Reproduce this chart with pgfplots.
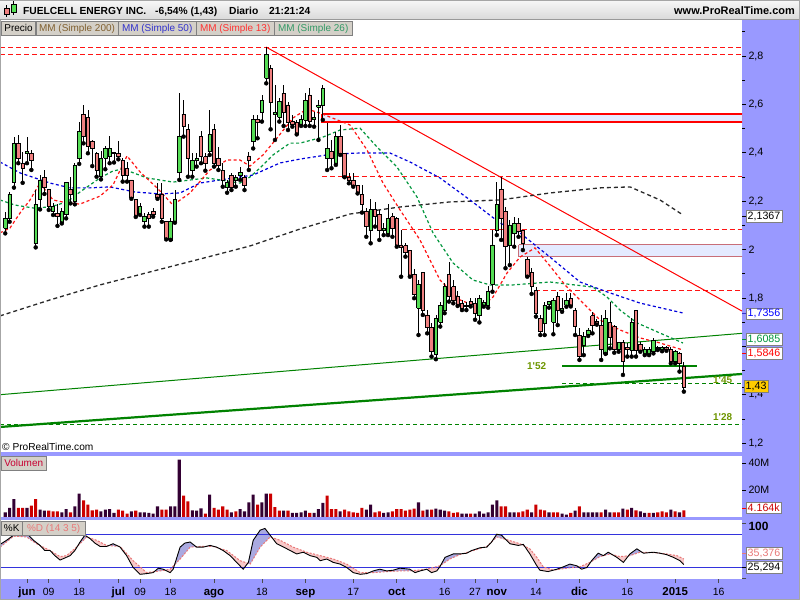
\documentclass[border=0pt]{standalone}
\usepackage{pgfplots}
\pgfplotsset{compat=1.18}
\usepackage{pgfplotstable}
\usepackage{fontspec}
\setmainfont{Liberation Sans}
\definecolor{pbg}{RGB}{153,153,255}
\definecolor{cgreen}{RGB}{85,221,85}
\definecolor{cred}{RGB}{240,128,128}
\definecolor{vdark}{RGB}{51,0,51}
\definecolor{vred}{RGB}{204,0,0}
\definecolor{ma200}{RGB}{40,40,40}
\definecolor{ma50}{RGB}{0,0,220}
\definecolor{ma13}{RGB}{255,20,20}
\definecolor{ma26}{RGB}{0,150,60}
\definecolor{tlgreen}{RGB}{0,130,0}
\definecolor{lblgreen}{RGB}{110,150,0}
\definecolor{boxfill}{RGB}{228,234,255}
\definecolor{kfill}{RGB}{170,170,225}
\definecolor{dfill}{RGB}{248,200,200}
\definecolor{dline}{RGB}{232,120,120}
\definecolor{btn}{RGB}{212,208,200}
\definecolor{mmA}{RGB}{128,96,48}
\definecolor{mmB}{RGB}{51,51,204}
\definecolor{mmC}{RGB}{255,51,51}
\definecolor{mmD}{RGB}{51,153,102}
\definecolor{stline}{RGB}{51,51,221}
\definecolor{gold}{RGB}{255,204,0}
\newcommand\ax{\fontsize{10.7}{12}\selectfont}
\newcommand\mo[1]{{\fontsize{11.5}{12}\selectfont\bfseries #1}}

\pgfplotstableread{
i o h l c
-5 2.088 2.157 2.067 2.129
-4 2.129 2.239 2.115 2.228
-3 2.276 2.467 2.256 2.439
-2 2.439 2.474 2.357 2.377
-1 2.357 2.405 2.276 2.336
0 2.398 2.467 2.357 2.407
1 2.398 2.412 2.329 2.367
2 2.026 2.246 2.009 2.187
3 2.208 2.308 2.166 2.288
4 2.299 2.329 2.230 2.257
5 2.249 2.249 2.164 2.180
6 2.159 2.191 2.143 2.180
7 2.150 2.187 2.098 2.139
8 2.111 2.171 2.108 2.157
9 2.147 2.281 2.129 2.276
10 2.250 2.301 2.191 2.230
11 2.198 2.357 2.187 2.347
12 2.377 2.529 2.354 2.490
13 2.560 2.598 2.439 2.467
14 2.547 2.577 2.398 2.425
15 2.449 2.453 2.345 2.418
16 2.398 2.405 2.301 2.326
17 2.301 2.407 2.290 2.377
18 2.379 2.428 2.332 2.418
19 2.384 2.469 2.357 2.418
20 2.398 2.405 2.360 2.402
21 2.398 2.449 2.373 2.384
22 2.370 2.377 2.281 2.308
23 2.336 2.360 2.281 2.308
24 2.288 2.288 2.210 2.216
25 2.208 2.210 2.135 2.139
26 2.147 2.191 2.143 2.180
27 2.115 2.150 2.095 2.139
28 2.147 2.157 2.095 2.129
29 2.158 2.170 2.136 2.147
30 2.228 2.277 2.210 2.216
31 2.228 2.277 2.115 2.129
32 2.115 2.115 2.042 2.046
33 2.040 2.129 2.040 2.115
34 2.115 2.246 2.111 2.208
35 2.318 2.646 2.288 2.467
36 2.560 2.618 2.467 2.508
37 2.497 2.519 2.301 2.377
38 2.326 2.398 2.301 2.367
39 2.367 2.398 2.343 2.377
40 2.467 2.491 2.357 2.384
41 2.384 2.398 2.326 2.357
42 2.405 2.577 2.391 2.475
43 2.497 2.519 2.343 2.357
44 2.377 2.425 2.329 2.350
45 2.326 2.357 2.260 2.288
46 2.257 2.288 2.235 2.276
47 2.307 2.318 2.246 2.257
48 2.288 2.308 2.260 2.299
49 2.307 2.343 2.288 2.318
50 2.299 2.308 2.246 2.267
51 2.387 2.405 2.329 2.367
52 2.446 2.556 2.418 2.538
53 2.538 2.556 2.460 2.525
54 2.566 2.639 2.529 2.618
55 2.708 2.839 2.687 2.807
56 2.749 2.763 2.497 2.607
57 2.560 2.680 2.453 2.567
58 2.547 2.625 2.529 2.611
59 2.646 2.680 2.511 2.566
60 2.598 2.611 2.494 2.525
61 2.529 2.556 2.508 2.519
62 2.525 2.536 2.476 2.476
63 2.519 2.556 2.511 2.538
64 2.535 2.646 2.511 2.618
65 2.639 2.666 2.511 2.529
66 2.538 2.570 2.508 2.547
67 2.588 2.618 2.453 2.598
68 2.598 2.680 2.536 2.666
69 2.377 2.522 2.329 2.418
70 2.405 2.453 2.336 2.377
71 2.357 2.487 2.350 2.467
72 2.467 2.515 2.391 2.398
73 2.398 2.398 2.299 2.299
74 2.299 2.318 2.274 2.288
75 2.288 2.318 2.260 2.266
76 2.266 2.266 2.232 2.235
77 2.228 2.267 2.153 2.187
78 2.159 2.170 2.053 2.095
79 2.078 2.208 2.026 2.166
80 2.166 2.198 2.095 2.136
81 2.147 2.164 2.040 2.078
82 2.078 2.108 2.060 2.088
83 2.067 2.187 2.060 2.129
84 2.136 2.150 2.053 2.088
85 2.129 2.136 2.012 2.019
86 2.019 2.081 1.888 2.009
87 2.016 2.026 1.971 1.989
88 1.998 1.998 1.888 1.888
89 1.898 1.918 1.799 1.817
90 1.757 1.874 1.647 1.857
91 1.906 1.906 1.730 1.750
92 1.730 1.750 1.654 1.679
93 1.679 1.695 1.558 1.578
94 1.569 1.730 1.547 1.716
95 1.700 1.785 1.682 1.771
96 1.750 1.861 1.737 1.847
97 1.898 1.950 1.785 1.805
98 1.847 1.874 1.778 1.792
99 1.805 1.830 1.767 1.771
100 1.778 1.792 1.750 1.757
101 1.770 1.785 1.750 1.764
102 1.785 1.800 1.765 1.775
103 1.778 1.800 1.710 1.737
104 1.727 1.812 1.699 1.799
105 1.771 1.792 1.764 1.780
106 1.768 1.850 1.760 1.826
107 1.858 2.081 1.826 2.019
108 2.081 2.281 2.060 2.188
109 2.249 2.300 2.040 2.129
110 2.157 2.177 1.923 2.012
111 2.019 2.122 1.936 2.102
112 2.067 2.136 2.012 2.109
113 2.109 2.129 2.053 2.074
114 2.081 2.081 1.998 2.026
115 1.960 1.971 1.888 1.891
116 1.905 1.923 1.817 1.850
117 1.833 1.847 1.723 1.737
118 1.716 1.730 1.647 1.661
119 1.695 1.785 1.647 1.771
120 1.775 1.789 1.760 1.785
121 1.700 1.800 1.650 1.790
122 1.808 1.826 1.688 1.750
123 1.748 1.799 1.743 1.757
124 1.771 1.819 1.764 1.789
125 1.799 1.819 1.765 1.771
126 1.750 1.757 1.647 1.682
127 1.647 1.675 1.544 1.558
128 1.606 1.661 1.564 1.640
129 1.651 1.675 1.643 1.668
130 1.727 1.744 1.654 1.688
131 1.702 1.712 1.690 1.695
132 1.688 1.730 1.544 1.588
133 1.569 1.750 1.569 1.716
134 1.699 1.785 1.592 1.637
135 1.681 1.688 1.574 1.588
136 1.588 1.620 1.578 1.615
137 1.615 1.626 1.482 1.537
138 1.596 1.613 1.558 1.588
139 1.582 1.716 1.558 1.699
140 1.748 1.750 1.558 1.585
141 1.609 1.620 1.578 1.585
142 1.569 1.596 1.564 1.588
143 1.569 1.596 1.564 1.588
144 1.578 1.633 1.571 1.626
145 1.596 1.600 1.585 1.589
146 1.589 1.600 1.580 1.596
147 1.596 1.602 1.582 1.588
148 1.588 1.599 1.530 1.537
149 1.537 1.585 1.530 1.578
150 1.571 1.578 1.496 1.530
151 1.516 1.537 1.413 1.430
}\ohlc

\pgfplotstableread{
i d r
-5 3.5 0
-4 6.7 0
-3 13.3 0
-2 0 6.7
-1 0 6.7
0 6.7 0
1 0 8.4
2 0 13.3
3 5.4 0
4 4.7 0
5 0 4.7
6 0 4.2
7 0 4.2
8 3.5 0
9 5.9 0
10 0 3.5
11 7.9 0
12 17.3 0
13 0 12.3
14 0 9.1
15 0 4.9
16 0 5.4
17 4.2 0
18 5.4 0
19 5.9 0
20 3.0 0
21 0 5.4
22 0 4.7
23 0 2.5
24 4.2 0
25 0 4.7
26 3.5 0
27 3.5 0
28 3.0 0
29 2.5 0
30 7.9 0
31 0 5.4
32 0 5.4
33 7.9 0
34 7.9 0
35 42.5 0
36 0 15.8
37 0 11.6
38 4.9 0
39 4.7 0
40 6.4 0
41 0 2.5
42 16.5 0
43 0 6.7
44 0 5.4
45 0 7.9
46 0 5.4
47 3.5 0
48 0 4.2
49 5.9 0
50 4.2 0
51 10.9 0
52 16.5 0
53 0 9.1
54 10.9 0
55 17.3 0
56 0 17.3
57 0 7.4
58 0 4.7
59 4.7 0
60 0 4.7
61 3.0 0
62 3.0 0
63 3.5 0
64 4.7 0
65 0 3.0
66 3.0 0
67 5.9 0
68 10.4 0
69 0 15.8
70 0 5.9
71 0 5.9
72 4.2 0
73 0 5.4
74 0 4.2
75 0 3.5
76 0 3.0
77 0 6.7
78 5.4 0
79 9.1 0
80 0 3.5
81 0 4.2
82 3.0 0
83 3.5 0
84 0 4.2
85 0 5.9
86 0 5.9
87 0 4.7
88 0 5.4
89 0 6.2
90 10.9 0
91 0 4.7
92 5.4 0
93 0 5.4
94 6.2 0
95 5.4 0
96 4.7 0
97 0 4.2
98 0 3.0
99 0 3.5
100 2.5 0
101 2.5 0
102 0 2.5
103 2.5 0
104 4.2 0
105 2.5 0
106 3.5 0
107 9.1 0
108 12.3 0
109 0 7.9
110 0 7.9
111 3.5 0
112 3.5 0
113 0 3.5
114 0 4.2
115 0 5.4
116 3.5 0
117 0 9.1
118 0 5.4
119 0 4.9
120 3.5 0
121 0 3.5
122 0 3.5
123 2.5 0
124 1.7 0
125 0 3.0
126 4.7 0
127 0 7.9
128 3.5 0
129 3.5 0
130 3.5 0
131 3.5 0
132 0 3.5
133 5.4 0
134 3.5 0
135 0 3.5
136 0 3.5
137 6.2 0
138 0 5.4
139 6.7 0
140 0 4.9
141 4.2 0
142 3.0 0
143 0 3.0
144 3.0 0
145 0 3.5
146 0 4.2
147 0 3.5
148 5.4 0
149 0 4.2
150 3.5 0
151 0 4.9
}\vol

\begin{document}
\begin{tikzpicture}[x=1bp,y=1bp]
\useasboundingbox (0,0) rectangle (800,600);
\fill[pbg] (0,0) rectangle (800,580);
\shade[top color=gray!6, bottom color=gray!30] (0,580) rectangle (800,600);
\draw[gray!80] (0,580.5) -- (800,580.5);

% ---------------- price panel ----------------
\begin{axis}[at={(0bp,148bp)}, anchor=south west, scale only axis,
  width=742bp, height=432bp,
  xmin=-6.207, xmax=164.37, ymin=1.1636, ymax=2.9488,
  axis background/.style={fill=white}, axis line style={draw=none},
  xtick=\empty,
  ytick={1.2,1.4,1.6,1.8,2,2.2,2.4,2.6,2.8},
  yticklabels={{1,2},{1,4},{},{1,8},{2},{2,2},{2,4},{2,6},{2,8}},
  minor ytick={1.3,1.5,1.7,1.9,2.1,2.3,2.5,2.7,2.9},
  ytick pos=right, yticklabel pos=right, tick align=outside,
  major tick length=4bp, minor tick length=3bp,
  tick style={black, line width=0.6bp},
  yticklabel style={font=\ax, anchor=west, xshift=-1bp}]
% horizontal levels and trend lines
\addplot[ma13, line width=1bp, dash pattern=on 5bp off 3bp, forget plot] coordinates {(-6.207,2.834) (164.37,2.834)};
\addplot[ma13, line width=1bp, dash pattern=on 5bp off 3bp, forget plot] coordinates {(-6.207,2.807) (164.37,2.807)};
\addplot[ma13, line width=1bp, dash pattern=on 5bp off 3bp, forget plot] coordinates {(67.8,2.301) (164.37,2.301)};
\addplot[ma13, line width=1bp, dash pattern=on 5bp off 3bp, forget plot] coordinates {(86.1,2.081) (164.37,2.081)};
\addplot[ma13, line width=1bp, dash pattern=on 5bp off 3bp, forget plot] coordinates {(116.8,1.829) (164.37,1.829)};
\addplot[draw=red, line width=1.5bp, fill=boxfill, forget plot] coordinates {(67.8,2.560) (164.6,2.560) (164.6,2.527) (67.8,2.527) (67.8,2.560)};
\addplot[draw={rgb,255:red,200;green,110;blue,120}, line width=1bp, fill=boxfill, forget plot] coordinates {(113.1,2.019) (164.6,2.019) (164.6,1.973) (113.1,1.973) (113.1,2.019)};
\addplot[red, line width=1bp, forget plot] coordinates {(54.94,2.837) (164.37,1.746)};
\addplot[tlgreen, line width=1bp, forget plot] coordinates {(-6.207,1.4004) (164.37,1.654)};
\addplot[tlgreen, line width=2.2bp, forget plot] coordinates {(-6.207,1.267) (164.37,1.486)};
\addplot[tlgreen, line width=2.4bp, forget plot] coordinates {(123.0,1.519) (154.0,1.519)};
\addplot[tlgreen, line width=1bp, dash pattern=on 4bp off 3bp, forget plot] coordinates {(123.0,1.448) (164.37,1.448)};
\addplot[tlgreen, line width=1bp, dash pattern=on 4bp off 3bp, forget plot] coordinates {(-6.207,1.278) (164.37,1.278)};
% moving averages
\addplot[ma200, line width=1.3bp, dash pattern=on 4bp off 3bp, forget plot] coordinates {(-6.21,1.726) (5.29,1.792) (16.78,1.854) (28.33,1.908) (39.77,1.961) (51.26,2.015) (62.76,2.085) (74.25,2.147) (85.75,2.176) (97.24,2.197) (108.74,2.205) (120.23,2.234) (131.72,2.255) (138.62,2.259) (145.52,2.205) (150.8,2.143)};
\addplot[ma50, line width=1.2bp, dash pattern=on 3bp off 2.5bp, forget plot] coordinates {(-6.21,2.362) (-1.61,2.317) (5.29,2.275) (9.89,2.255) (14.48,2.255) (19.08,2.259) (24.83,2.238) (30.57,2.230) (35.17,2.234) (39.77,2.275) (47.36,2.296) (51.95,2.308) (58.16,2.358) (62.76,2.374) (70.34,2.395) (76.55,2.399) (83.45,2.399) (88.05,2.362) (94.94,2.296) (101.84,2.205) (108.74,2.110) (113.33,2.069) (120.23,1.969) (127.13,1.866) (134.02,1.821) (140.92,1.779) (150.8,1.738)};
\addplot[ma26, line width=1.2bp, dash pattern=on 3bp off 2.5bp, forget plot] coordinates {(-6.21,2.205) (-2.76,2.184) (1.38,2.172) (5.29,2.176) (9.20,2.197) (12.18,2.238) (16.78,2.296) (19.77,2.325) (22.07,2.333) (27.59,2.296) (33.56,2.279) (41.38,2.296) (48.97,2.275) (51.26,2.300) (53.56,2.337) (56.55,2.391) (60.46,2.440) (62.76,2.440) (68.05,2.465) (71.95,2.494) (76.55,2.502) (80.46,2.424) (85.06,2.341) (89.66,2.217) (93.33,2.069) (97.93,1.945) (102.53,1.874) (106.44,1.854) (111.72,1.854) (120.23,1.866) (130.11,1.845) (133.33,1.804) (136.32,1.750) (140.23,1.697) (145.52,1.655) (150.8,1.614)};
\addplot[ma13, line width=1.2bp, dash pattern=on 3bp off 2.5bp, forget plot] coordinates {(-6.21,2.069) (-3.91,2.089) (-1.61,2.151) (0.69,2.205) (2.99,2.275) (5.98,2.205) (9.20,2.193) (12.18,2.188) (16.78,2.221) (19.77,2.267) (22.99,2.387) (25.98,2.321) (29.89,2.255) (33.56,2.184) (37.47,2.234) (42.07,2.329) (45.98,2.370) (48.97,2.370) (51.26,2.345) (54.25,2.391) (57.47,2.461) (61.15,2.544) (64.37,2.581) (67.36,2.564) (74.25,2.515) (78.16,2.412) (81.84,2.275) (85.75,2.164) (90.34,2.040) (94.94,1.874) (99.54,1.792) (104.14,1.759) (107.13,1.804) (110.34,1.903) (113.33,1.969) (116.78,2.007) (120.23,1.932) (123.68,1.854) (128.28,1.771) (131.72,1.709) (136.32,1.668) (140.92,1.635) (145.52,1.614) (150.8,1.585)};
% candle wicks
\addplot[only marks, mark=none, forget plot, error bars/.cd, y dir=plus, y explicit, error mark=none, error bar style={black, line width=0.8bp}]
  table[x=i, y=l, y error plus expr=\thisrow{h}-\thisrow{l}] {\ohlc};
% candle bodies
\pgfplotstablegetrowsof{\ohlc}
\pgfmathtruncatemacro\lastrow{\pgfplotsretval-1}
\pgfplotsforeachungrouped \rr in {0,...,\lastrow}{%
  \pgfplotstablegetelem{\rr}{i}\of{\ohlc}\let\ci\pgfplotsretval
  \pgfplotstablegetelem{\rr}{o}\of{\ohlc}\let\co\pgfplotsretval
  \pgfplotstablegetelem{\rr}{c}\of{\ohlc}\let\cc\pgfplotsretval
  \pgfmathsetmacro\xl{\ci-0.40}%
  \pgfmathsetmacro\xr{\ci+0.40}%
  \pgfmathtruncatemacro\up{\cc>=\co}%
  \ifnum\up=1 \def\bc{cgreen}\else\def\bc{cred}\fi
  \edef\tmp{\noexpand\addplot[draw=black, line width=0.7bp, fill=\bc, forget plot] coordinates {(\xl,\co) (\xr,\co) (\xr,\cc) (\xl,\cc) (\xl,\co)};}%
  \tmp
}
\end{axis}

% ---------------- volume panel ----------------
\begin{axis}[at={(0bp,83bp)}, anchor=south west, scale only axis,
  width=742bp, height=61bp,
  xmin=-6.207, xmax=164.37, ymin=0, ymax=45.19,
  axis background/.style={fill=white}, axis line style={draw=none},
  xtick=\empty, ytick={20,40}, yticklabels={20M,40M},
  ytick pos=right, yticklabel pos=right, tick align=outside,
  major tick length=4bp, tick style={black, line width=0.6bp},
  yticklabel style={font=\ax, anchor=west, xshift=-1bp}]
\addplot[ybar, bar width=0.7, bar shift=0pt, fill=vdark, draw=none] table[x=i, y=d] {\vol};
\addplot[ybar, bar width=0.7, bar shift=0pt, fill=vred, draw=none] table[x=i, y=r] {\vol};
\end{axis}

% ---------------- stochastic panel ----------------
\begin{axis}[at={(0bp,21bp)}, anchor=south west, scale only axis,
  width=742bp, height=59bp,
  xmin=-6.207, xmax=164.37, ymin=-0.93, ymax=106.5,
  axis background/.style={fill=white}, axis line style={draw=none},
  xtick={0,5,12,21,26,33,43,54,64,75,85,96,103,108,117,127,138,149,159},
  xticklabels={\mo{jun},09,18,\mo{jul},09,18,\mo{ago},18,\mo{sep},17,\mo{oct},16,27,\mo{nov},14,\mo{dic},16,\mo{2015},16},
  xtick pos=bottom, ytick={0,100}, yticklabels={,\textbf{100}},
  ytick pos=right, yticklabel pos=right, tick align=outside,
  major tick length=4bp, tick style={black!70, line width=0.6bp},
  xticklabel style={font=\fontsize{10.5}{12}\selectfont, anchor=base, yshift=-13bp},
  yticklabel style={font=\fontsize{12}{12}\selectfont, anchor=west, xshift=-1bp, yshift=-3bp}]
% pink: whole region between %K and %D
\addplot[fill=dfill, draw=none, forget plot] coordinates {(-6.2,62.0) (-4.7,69.5) (-3.1,78.8) (-1.6,88.0) (-0.1,82.0) (1.5,69.5) (3.0,60.2) (4.1,50.9) (5.3,50.9) (6.4,41.6) (7.6,33.6) (8.7,37.3) (9.9,41.6) (11.0,50.9) (12.2,66.4) (13.3,78.8) (14.5,72.6) (15.6,64.5) (16.8,58.3) (18.3,58.3) (19.8,63.3) (21.4,57.1) (22.9,41.6) (24.4,20.0) (26.0,7.6) (27.5,8.9) (29.0,10.7) (30.2,18.8) (31.3,16.9) (32.9,10.7) (33.6,16.9) (35.2,57.1) (36.3,64.5) (37.5,66.4) (39.0,57.1) (40.5,57.1) (42.1,60.2) (43.6,57.1) (45.1,50.9) (46.7,41.6) (48.2,29.3) (49.7,16.9) (50.9,29.3) (52.0,69.5) (53.6,88.0) (54.7,91.1) (55.9,78.8) (57.4,63.3) (59.0,57.1) (60.5,50.9) (62.0,44.7) (63.5,47.8) (65.1,41.6) (66.6,38.5) (67.4,32.4) (68.9,35.5) (70.4,29.3) (72.0,26.2) (73.5,20.0) (75.0,10.7) (76.6,7.6) (78.1,8.9) (79.6,13.8) (81.1,16.9) (82.7,13.8) (84.2,15.1) (85.7,18.8) (88.0,16.9) (89.2,10.7) (90.4,13.8) (91.9,16.9) (93.0,10.7) (94.2,13.8) (94.9,21.2) (96.1,38.5) (98.0,44.7) (99.5,44.7) (101.1,46.0) (102.2,50.9) (104.1,55.9) (105.7,57.1) (106.8,66.4) (108.0,80.6) (109.1,78.8) (111.0,63.3) (112.95,60.2) (114.1,62.1) (115.6,44.7) (117.2,23.1) (117.9,15.1) (119.8,12.6) (121.8,16.9) (123.3,21.2) (124.8,26.2) (126.4,23.1) (127.5,16.9) (128.7,20.0) (129.8,32.4) (131.3,46.0) (132.5,41.6) (133.6,47.8) (135.6,38.5) (137.1,29.3) (138.6,44.7) (140.2,54.0) (141.7,46.0) (144.0,47.8) (145.5,46.0) (147.0,43.5) (148.6,38.5) (150.1,32.4) (151.0,25.3)
 (151.0,35.4) (149.4,41.6) (147.0,44.7) (144.0,47.2) (140.9,47.8) (138.6,41.6) (136.3,39.8) (134.0,44.7) (131.7,39.8) (129.4,29.3) (127.1,21.2) (124.1,18.8) (121.0,15.1) (118.7,21.2) (117.2,38.5) (115.6,54.0) (113.3,63.3) (110.3,70.7) (108.0,75.7) (105.7,58.3) (102.6,50.9) (99.5,43.5) (97.2,35.5) (94.9,23.1) (91.9,16.9) (88.0,13.8) (85.8,13.8) (82.7,12.6) (79.6,10.7) (76.6,10.7) (73.5,26.2) (70.4,35.5) (67.4,41.6) (64.3,47.8) (61.2,57.1) (58.2,69.5) (55.9,75.7) (53.6,57.1) (51.3,26.2) (49.0,32.4) (45.9,50.9) (42.8,58.3) (39.8,58.3) (37.5,57.1) (35.2,35.5) (32.9,16.9) (30.6,13.8) (27.5,10.7) (24.4,32.4) (21.4,58.3) (18.3,60.2) (16.0,69.5) (13.7,75.7) (11.4,57.1) (9.1,41.6) (7.6,39.8) (5.3,50.9) (2.2,63.3) (-0.1,75.7) (-3.1,77.0) (-6.2,57.0)};
% blue: lobes where %K is above %D
\addplot[fill=kfill, draw=none, forget plot] coordinates {(-6.2,62.0) (-4.7,69.5) (-3.1,78.8) (-1.6,88.0) (-0.1,82.0) (1.5,69.5) (3.0,60.2) (2.2,63.3) (-0.1,75.7) (-3.1,77.0) (-6.2,57.0)};
\addplot[fill=kfill, draw=none, forget plot] coordinates {(11.6,58.7) (12.2,66.4) (13.3,78.8) (14.2,74.3) (13.7,75.7)};
\addplot[fill=kfill, draw=none, forget plot] coordinates {(19.0,60.0) (19.8,63.3) (20.9,58.7)};
\addplot[fill=kfill, draw=none, forget plot] coordinates {(29.4,12.6) (30.2,18.8) (31.3,16.9) (31.75,15.2) (30.6,13.8)};
\addplot[fill=kfill, draw=none, forget plot] coordinates {(33.9,24.8) (35.2,57.1) (36.3,64.5) (37.5,66.4) (38.9,57.8) (37.5,57.1) (35.2,35.5)};
\addplot[fill=kfill, draw=none, forget plot] coordinates {(41.1,58.3) (42.1,60.2) (43.6,57.1) (44.2,54.6) (42.8,58.3)};
\addplot[fill=kfill, draw=none, forget plot] coordinates {(50.75,27.7) (52.0,69.5) (53.6,88.0) (54.7,91.1) (55.9,78.8) (56.3,74.6) (55.9,75.7) (53.6,57.1) (51.3,26.2)};
\addplot[fill=kfill, draw=none, forget plot] coordinates {(78.6,10.7) (79.6,13.8) (81.1,16.9) (82.7,13.8) (84.2,15.1) (85.7,18.8) (88.0,16.9) (88.55,14.2) (88.0,13.8) (85.8,13.8) (82.7,12.6) (79.6,10.7)};
\addplot[fill=kfill, draw=none, forget plot] coordinates {(95.1,24.2) (96.1,38.5) (98.0,44.7) (99.5,44.7) (100.2,45.2) (99.5,43.5) (97.2,35.5)};
\addplot[fill=kfill, draw=none, forget plot] coordinates {(101.8,49.05) (102.2,50.9) (104.1,55.9) (105.0,56.6) (102.6,50.9)};
\addplot[fill=kfill, draw=none, forget plot] coordinates {(106.75,66.0) (108.0,80.6) (109.1,78.8) (110.0,71.4) (108.0,75.7)};
\addplot[fill=kfill, draw=none, forget plot] coordinates {(113.75,61.5) (114.1,62.1) (114.35,59.1)};
\addplot[fill=kfill, draw=none, forget plot] coordinates {(121.2,15.5) (121.8,16.9) (123.3,21.2) (124.8,26.2) (126.4,23.1) (126.8,21.0) (124.1,18.8)};
\addplot[fill=kfill, draw=none, forget plot] coordinates {(129.6,30.2) (129.8,32.4) (131.3,46.0) (132.5,41.6) (133.6,47.8) (134.5,43.6) (134.0,44.7) (131.7,39.8)};
\addplot[fill=kfill, draw=none, forget plot] coordinates {(138.3,41.4) (138.6,44.7) (140.2,54.0) (141.4,47.7) (140.9,47.8) (138.6,41.6)};
\addplot[fill=kfill, draw=none, forget plot] coordinates {(143.3,47.3) (144.0,47.8) (145.5,46.0) (144.0,47.2)};
\addplot[stline, line width=1bp, forget plot] coordinates {(-6.207,80) (164.37,80)};
\addplot[stline, line width=1bp, forget plot] coordinates {(-6.207,20) (164.37,20)};
\addplot[dline, line width=1bp, dash pattern=on 2bp off 1.5bp, forget plot] coordinates {(-6.2,57.0) (-3.1,77.0) (-0.1,75.7) (2.2,63.3) (5.3,50.9) (7.6,39.8) (9.1,41.6) (11.4,57.1) (13.7,75.7) (16.0,69.5) (18.3,60.2) (21.4,58.3) (24.4,32.4) (27.5,10.7) (30.6,13.8) (32.9,16.9) (35.2,35.5) (37.5,57.1) (39.8,58.3) (42.8,58.3) (45.9,50.9) (49.0,32.4) (51.3,26.2) (53.6,57.1) (55.9,75.7) (58.2,69.5) (61.2,57.1) (64.3,47.8) (67.4,41.6) (70.4,35.5) (73.5,26.2) (76.6,10.7) (79.6,10.7) (82.7,12.6) (85.8,13.8) (88.0,13.8) (91.9,16.9) (94.9,23.1) (97.2,35.5) (99.5,43.5) (102.6,50.9) (105.7,58.3) (108.0,75.7) (110.3,70.7) (113.3,63.3) (115.6,54.0) (117.2,38.5) (118.7,21.2) (121.0,15.1) (124.1,18.8) (127.1,21.2) (129.4,29.3) (131.7,39.8) (134.0,44.7) (136.3,39.8) (138.6,41.6) (140.9,47.8) (144.0,47.2) (147.0,44.7) (149.4,41.6) (151.0,35.4)};
\addplot[black, line width=0.9bp, forget plot] coordinates {(-6.2,62.0) (-4.7,69.5) (-3.1,78.8) (-1.6,88.0) (-0.1,82.0) (1.5,69.5) (3.0,60.2) (4.1,50.9) (5.3,50.9) (6.4,41.6) (7.6,33.6) (8.7,37.3) (9.9,41.6) (11.0,50.9) (12.2,66.4) (13.3,78.8) (14.5,72.6) (15.6,64.5) (16.8,58.3) (18.3,58.3) (19.8,63.3) (21.4,57.1) (22.9,41.6) (24.4,20.0) (26.0,7.6) (27.5,8.9) (29.0,10.7) (30.2,18.8) (31.3,16.9) (32.9,10.7) (33.6,16.9) (35.2,57.1) (36.3,64.5) (37.5,66.4) (39.0,57.1) (40.5,57.1) (42.1,60.2) (43.6,57.1) (45.1,50.9) (46.7,41.6) (48.2,29.3) (49.7,16.9) (50.9,29.3) (52.0,69.5) (53.6,88.0) (54.7,91.1) (55.9,78.8) (57.4,63.3) (59.0,57.1) (60.5,50.9) (62.0,44.7) (63.5,47.8) (65.1,41.6) (66.6,38.5) (67.4,32.4) (68.9,35.5) (70.4,29.3) (72.0,26.2) (73.5,20.0) (75.0,10.7) (76.6,7.6) (78.1,8.9) (79.6,13.8) (81.1,16.9) (82.7,13.8) (84.2,15.1) (85.7,18.8) (88.0,16.9) (89.2,10.7) (90.4,13.8) (91.9,16.9) (93.0,10.7) (94.2,13.8) (94.9,21.2) (96.1,38.5) (98.0,44.7) (99.5,44.7) (101.1,46.0) (102.2,50.9) (104.1,55.9) (105.7,57.1) (106.8,66.4) (108.0,80.6) (109.1,78.8) (111.0,63.3) (112.95,60.2) (114.1,62.1) (115.6,44.7) (117.2,23.1) (117.9,15.1) (119.8,12.6) (121.8,16.9) (123.3,21.2) (124.8,26.2) (126.4,23.1) (127.5,16.9) (128.7,20.0) (129.8,32.4) (131.3,46.0) (132.5,41.6) (133.6,47.8) (135.6,38.5) (137.1,29.3) (138.6,44.7) (140.2,54.0) (141.7,46.0) (144.0,47.8) (145.5,46.0) (147.0,43.5) (148.6,38.5) (150.1,32.4) (151.0,25.3)};
\end{axis}

% ---------------- overlays ----------------
% title bar
\fill[cred] (4,586) rectangle (9,592); \draw[black,line width=0.5] (4,586) rectangle (9,592) (6.5,583)--(6.5,586) (6.5,592)--(6.5,595);
\fill[cgreen] (11,588) rectangle (16,596); \draw[black,line width=0.5] (11,588) rectangle (16,596) (13.5,585)--(13.5,588) (13.5,596)--(13.5,599);
\node[anchor=base west, inner sep=0, font=\fontsize{10.3}{12}\selectfont\bfseries] at (23,585) {FUELCELL ENERGY INC.};
\node[anchor=base west, inner sep=0, font=\fontsize{10.3}{12}\selectfont\bfseries] at (155,585) {-6,54\% (1,43)};
\node[anchor=base west, inner sep=0, font=\fontsize{10.3}{12}\selectfont\bfseries] at (229,585) {Diario};
\node[anchor=base west, inner sep=0, font=\fontsize{10.3}{12}\selectfont\bfseries] at (269,585) {21:21:24};
\node[anchor=base east, inner sep=0, font=\fontsize{11}{12}\selectfont\bfseries] at (795,585) {www.ProRealTime.com};
% legend buttons
\begin{scope}[font=\fontsize{10}{12}\selectfont]
\draw[fill=btn, draw=gray] (1.5,565) rectangle (35.5,579);
\node[anchor=base, inner sep=0] at (18.5,568.5) {Precio};
\draw[fill=btn, draw=gray] (36,565) rectangle (118,579);
\node[anchor=base, inner sep=0, text=mmA] at (77,568.5) {MM (Simple 200)};
\draw[fill=btn, draw=gray] (118.5,565) rectangle (196,579);
\node[anchor=base, inner sep=0, text=mmB] at (157.2,568.5) {MM (Simple 50)};
\draw[fill=btn, draw=gray] (196.5,565) rectangle (274,579);
\node[anchor=base, inner sep=0, text=mmC] at (235.2,568.5) {MM (Simple 13)};
\draw[fill=btn, draw=gray] (274.5,565) rectangle (352,579);
\node[anchor=base, inner sep=0, text=mmD] at (313.2,568.5) {MM (Simple 26)};
\end{scope}
% level labels
\node[anchor=base west, inner sep=0, text=lblgreen, font=\fontsize{10}{12}\selectfont\bfseries] at (527,230) {1\textquotesingle 52};
\node[anchor=base west, inner sep=0, text=lblgreen, font=\fontsize{10}{12}\selectfont\bfseries] at (713,216) {1\textquotesingle 45};
\node[anchor=base west, inner sep=0, text=lblgreen, font=\fontsize{10}{12}\selectfont\bfseries] at (713,179) {1\textquotesingle 28};
\node[anchor=base west, inner sep=0, font=\fontsize{10.2}{12}\selectfont] at (2,149) {\textcopyright\ ProRealTime.com};
% value boxes on right scale
\begin{scope}[font=\ax]
\draw[black, line width=0.8] (742,384) -- (746,384);
\node[draw=gray, fill=white, anchor=west, inner sep=1.5bp] at (746,384) {2,1367};
\draw[mmB, line width=0.8] (742,286.3) -- (746,286.3);
\node[draw=gray, fill=white, anchor=west, inner sep=1.5bp, text=blue] at (746,286.3) {1,7356};
\draw[ma26, line width=0.8] (742,260.5) -- (746,260.5);
\node[draw=gray, fill=white, anchor=west, inner sep=1.5bp, text=ma26] at (746,260.5) {1,6085};
\draw[red, line width=0.8] (742,246.5) -- (746,246.5);
\node[draw=gray, fill=white, anchor=west, inner sep=1.5bp, text=red] at (746,246.5) {1,5846};
\draw[black, line width=0.8] (742,212.5) -- (746,212.5);
\node[draw=gray, fill=gold, anchor=west, inner sep=1.5bp, text=black] at (744,214) {1,43};
\draw[red, line width=0.8] (742,92) -- (746,92);
\node[draw=gray, fill=white, anchor=west, inner sep=1.5bp, text=vred] at (746,92) {4.164k};
\draw[dline, line width=0.8] (742,47) -- (746,47);
\node[draw=gray, fill=white, anchor=west, inner sep=1.5bp, text=dline] at (746,47) {35,376};
\draw[black, line width=0.8] (742,33) -- (746,33);
\node[draw=gray, fill=white, anchor=west, inner sep=1.5bp, text=black] at (746,33) {25,294};
\end{scope}
% panel name buttons
\begin{scope}[font=\fontsize{10}{12}\selectfont]
\draw[fill=btn, draw=gray] (1.5,130) rectangle (46,143.5);
\node[anchor=base, inner sep=0, text={rgb,255:red,200;green,0;blue,50}] at (23.7,133.5) {Volumen};
\draw[fill=btn, draw=gray] (1.5,65) rectangle (22,79);
\node[anchor=base, inner sep=0] at (11.7,68.5) {\%K};
\draw[fill=btn, draw=gray] (22.5,65) rectangle (85,79);
\node[anchor=base, inner sep=0, text=dline] at (53.7,68.5) {\%D (14 3 5)};
\end{scope}
\draw[gray!70] (0.5,0) -- (0.5,580) (799.5,0) -- (799.5,600) (0,0.5) -- (800,0.5) (0,599.5) -- (800,599.5);
\end{tikzpicture}
\end{document}
